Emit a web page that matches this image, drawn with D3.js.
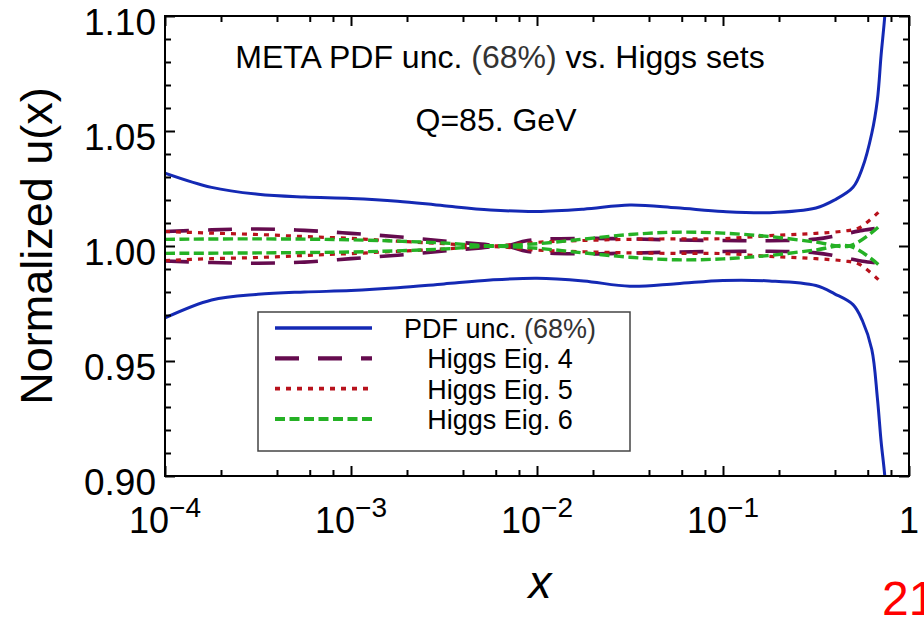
<!DOCTYPE html>
<html>
<head>
<meta charset="utf-8">
<script src="https://d3js.org/d3.v7.min.js"></script>
<style>
  body { margin: 0; background: #fff; }
  svg { font-family: "Liberation Sans", Arial, Helvetica, sans-serif; }
</style>
</head>
<body>
<svg id="chart" width="924" height="618"></svg>
<script>
// ---- data ----
const xMajor = [1e-4, 1e-3, 1e-2, 1e-1, 1];
const xMajorExp = ["\u22124", "\u22123", "\u22122", "\u22121", ""];
const xMinorMult = [2, 4, 6, 8];
const yMajor = [0.90, 0.95, 1.00, 1.05, 1.10];
const yMajorLabels = ["0.90", "0.95", "1.00", "1.05", "1.10"];
const yMinor = [0.91, 0.92, 0.93, 0.94, 0.96, 0.97, 0.98, 0.99, 1.01, 1.02, 1.03, 1.04, 1.06, 1.07, 1.08, 1.09];

// PDF uncertainty band (68%)
const pdfX  = [1e-4, 1.78e-4, 3.16e-4, 5.62e-4, 1e-3, 1.78e-3, 3.16e-3, 5.62e-3, 1e-2, 1.78e-2, 3.16e-2, 5.62e-2, 0.1, 0.178, 0.316, 0.398, 0.5, 0.562, 0.631, 0.676, 0.708, 0.741, 0.776];
const pdfUp = [1.0317, 1.0255, 1.0225, 1.0213, 1.0207, 1.0195, 1.0175, 1.0157, 1.0150, 1.0160, 1.0178, 1.0166, 1.0150, 1.0145, 1.0165, 1.0200, 1.0255, 1.0340, 1.0490, 1.0635, 1.0830, 1.1000, 1.1250];
const pdfLo = [0.9687, 0.9765, 0.9790, 0.9800, 0.9806, 0.9818, 0.9835, 0.9852, 0.9860, 0.9848, 0.9825, 0.9836, 0.9850, 0.9848, 0.9828, 0.9792, 0.9745, 0.9675, 0.9550, 0.9340, 0.9150, 0.9000, 0.8750];

// Higgs eigenvector 4
const eig4X  = [1e-4, 1.78e-4, 3.16e-4, 5.62e-4, 1e-3, 1.78e-3, 3.16e-3, 5.01e-3, 6.76e-3, 8.91e-3, 1.78e-2, 3.16e-2, 5.62e-2, 0.1, 0.178, 0.316, 0.447, 0.562, 0.692];
const eig4Up = [1.0063, 1.0070, 1.0074, 1.0068, 1.0055, 1.0040, 1.0022, 1.0008, 1.0000, 1.0024, 1.0033, 1.0031, 1.0026, 1.0024, 1.0023, 1.0030, 1.0052, 1.0068, 1.0078];
const eig4Lo = [0.9935, 0.9928, 0.9925, 0.9930, 0.9945, 0.9960, 0.9978, 0.9992, 1.0000, 0.9976, 0.9966, 0.9969, 0.9974, 0.9976, 0.9977, 0.9970, 0.9950, 0.9934, 0.9926];

// Higgs eigenvector 5
const eig5X  = [1e-4, 1.78e-4, 3.16e-4, 5.62e-4, 1e-3, 1.78e-3, 3.16e-3, 5.62e-3, 1e-2, 1.78e-2, 3.16e-2, 5.62e-2, 0.1, 0.178, 0.316, 0.447, 0.537, 0.692];
const eig5Up = [1.0063, 1.0056, 1.0050, 1.0041, 1.0033, 1.0021, 1.0010, 1.0000, 1.0016, 1.0024, 1.0029, 1.0031, 1.0032, 1.0045, 1.0055, 1.0065, 1.0078, 1.0150];
const eig5Lo = [0.9937, 0.9945, 0.9950, 0.9959, 0.9967, 0.9977, 0.9987, 0.9998, 0.9982, 0.9975, 0.9970, 0.9968, 0.9967, 0.9955, 0.9945, 0.9935, 0.9922, 0.9850];

// Higgs eigenvector 6
const eig6X  = [1e-4, 3.16e-4, 1e-3, 1.78e-3, 3.16e-3, 5.62e-3, 1e-2, 1.78e-2, 3.16e-2, 5.62e-2, 0.1, 0.178, 0.316, 0.479, 0.692];
const eig6Up = [1.0029, 1.0031, 1.0027, 1.0021, 1.0013, 1.0001, 1.0010, 1.0030, 1.0050, 1.0060, 1.0056, 1.0041, 1.0017, 1.0000, 1.0086];
const eig6Lo = [0.9968, 0.9970, 0.9974, 0.9979, 0.9987, 0.9999, 0.9990, 0.9970, 0.9951, 0.9940, 0.9944, 0.9959, 0.9983, 1.0000, 0.9916];

const legendNames = ["PDF unc. ", "Higgs Eig. 4", "Higgs Eig. 5", "Higgs Eig. 6"];

// ---- layout ----
var margin = {top: 16, right: 15, bottom: 142, left: 165};
var width = 924 - margin.left - margin.right,
    height = 618 - margin.top - margin.bottom;

var x = d3.scaleLog().domain([1e-4, 1]).range([margin.left, margin.left + width]);
var y = d3.scaleLinear().domain([0.90, 1.10]).range([margin.top + height, margin.top]);

var svg = d3.select("#chart");

svg.append("clipPath").attr("id", "plotclip")
  .append("rect")
    .attr("x", x.range()[0]).attr("y", y.range()[1])
    .attr("width", width).attr("height", height);

var series = [
  {xs: eig4X, up: eig4Up, lo: eig4Lo, color: "#650b4e", width: 3.6, dash: "24,19"},
  {xs: eig5X, up: eig5Up, lo: eig5Lo, color: "#b8121c", width: 3.2, dash: "5,6"},
  {xs: eig6X, up: eig6Up, lo: eig6Lo, color: "#25b125", width: 3.4, dash: "10,4.5"}
];
var pdfStyle = {color: "#1429b4", width: 3, dash: null};

var line = d3.line()
  .x(d => x(d[0]))
  .y(d => y(d[1]))
  .curve(d3.curveCatmullRom.alpha(0.5));

var plot = svg.append("g").attr("clip-path", "url(#plotclip)");

// PDF band edges
[pdfUp, pdfLo].forEach(function(vals) {
  plot.append("path")
    .datum(pdfX.map((v, i) => [v, vals[i]]))
    .attr("d", line)
    .attr("fill", "none")
    .attr("stroke", pdfStyle.color)
    .attr("stroke-width", pdfStyle.width);
});

// Higgs sets, purple below red below green
series.forEach(function(s) {
  [s.up, s.lo].forEach(function(vals) {
    plot.append("path")
      .datum(s.xs.map((v, i) => [v, vals[i]]))
      .attr("d", line)
      .attr("fill", "none")
      .attr("stroke", s.color)
      .attr("stroke-width", s.width)
      .attr("stroke-dasharray", s.dash);
  });
});

// ---- frame and inward ticks on all sides ----
var xMinor = [];
xMajor.slice(0, -1).forEach(function(d) {
  xMinorMult.forEach(m => xMinor.push(d * m));
});

function tickAxis(gen, vals, size, tr) {
  var g = svg.append("g").attr("transform", tr)
    .call(gen.tickValues(vals).tickSize(-size).tickFormat(""));
  g.select(".domain").remove();
  g.selectAll("line").attr("stroke", "#000").attr("stroke-width", 2);
}
var bottomY = y.range()[0], topY = y.range()[1];
var leftX = x.range()[0], rightX = x.range()[1];

tickAxis(d3.axisBottom(x), xMajor, 10, "translate(0," + bottomY + ")");
tickAxis(d3.axisBottom(x), xMinor, 6, "translate(0," + bottomY + ")");
tickAxis(d3.axisTop(x), xMajor, 10, "translate(0," + topY + ")");
tickAxis(d3.axisTop(x), xMinor, 6, "translate(0," + topY + ")");
tickAxis(d3.axisLeft(y), yMajor, 10, "translate(" + leftX + ",0)");
tickAxis(d3.axisLeft(y), yMinor, 6, "translate(" + leftX + ",0)");
tickAxis(d3.axisRight(y), yMajor, 10, "translate(" + rightX + ",0)");
tickAxis(d3.axisRight(y), yMinor, 6, "translate(" + rightX + ",0)");

svg.append("rect")
  .attr("x", leftX).attr("y", topY)
  .attr("width", width).attr("height", height)
  .attr("fill", "none")
  .attr("stroke", "#000")
  .attr("stroke-width", 2);

// y tick labels
svg.selectAll(".ylab")
  .data(yMajor)
  .enter()
  .append("text")
    .attr("class", "ylab")
    .attr("x", leftX - 9)
    .attr("y", d => y(d) + 19)
    .attr("text-anchor", "end")
    .style("font-size", "37px")
    .text((d, i) => yMajorLabels[i]);

// x tick labels 10^n
var xl = svg.selectAll(".xlab")
  .data(xMajor)
  .enter()
  .append("text")
    .attr("class", "xlab")
    .attr("x", d => x(d))
    .attr("y", bottomY + 57)
    .attr("text-anchor", "middle")
    .style("font-size", "36px");
xl.each(function(d, i) {
  var t = d3.select(this);
  if (xMajorExp[i] === "") {
    t.text("1");
  } else {
    t.append("tspan").text("10");
    t.append("tspan").attr("dy", -16).style("font-size", "28px").text(xMajorExp[i]);
  }
});

// axis titles
svg.append("text")
  .attr("transform", "translate(52," + (y(1.0)) + ") rotate(-90)")
  .attr("text-anchor", "middle")
  .style("font-size", "45px")
  .text("Normalized u(x)");

svg.append("text")
  .attr("x", 540).attr("y", 598)
  .attr("text-anchor", "middle")
  .style("font-size", "46px")
  .style("font-style", "italic")
  .text("x");

// plot annotations
var title = svg.append("text")
  .attr("x", 500).attr("y", 68)
  .attr("text-anchor", "middle")
  .style("font-size", "32px");
title.append("tspan").text("META PDF unc. ");
title.append("tspan").attr("fill", "#333").text("(68%)");
title.append("tspan").text(" vs. Higgs sets");

svg.append("text")
  .attr("x", 496).attr("y", 131)
  .attr("text-anchor", "middle")
  .style("font-size", "32px")
  .text("Q=85. GeV");

// page number, cut by the right edge as in the slide
svg.append("text")
  .attr("x", 882).attr("y", 615)
  .attr("fill", "#ff0000")
  .style("font-size", "48px")
  .text("21");

// ---- legend ----
var legend = svg.append("g");
legend.append("rect")
  .attr("x", 258).attr("y", 312)
  .attr("width", 372).attr("height", 139)
  .attr("fill", "#fff")
  .attr("stroke", "#444")
  .attr("stroke-width", 1.5);

var legStyles = [pdfStyle].concat(series);
var rowY = d3.scalePoint().domain(d3.range(4)).range([328, 419]);

legend.selectAll(".legline")
  .data(legStyles)
  .enter()
  .append("line")
    .attr("x1", 275).attr("x2", 372)
    .attr("y1", (d, i) => rowY(i)).attr("y2", (d, i) => rowY(i))
    .attr("stroke", d => d.color)
    .attr("stroke-width", d => d.width + 0.6)
    .attr("stroke-dasharray", d => d.dash);

legend.selectAll(".legtext")
  .data(legendNames)
  .enter()
  .append("text")
    .attr("x", 500)
    .attr("y", (d, i) => rowY(i) + 10)
    .attr("text-anchor", "middle")
    .style("font-size", "27px")
    .each(function(d, i) {
      var t = d3.select(this);
      t.append("tspan").text(d);
      if (i === 0) t.append("tspan").attr("fill", "#333").text("(68%)");
    });
</script>
</body>
</html>
